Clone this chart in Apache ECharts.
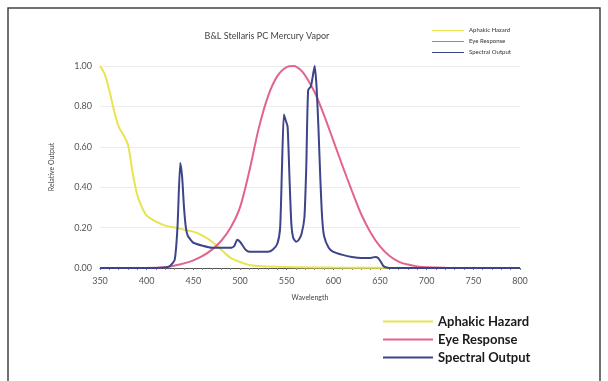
<!DOCTYPE html>
<html>
<head>
<meta charset="utf-8">
<script src="https://cdn.jsdelivr.net/npm/echarts@6/dist/echarts.min.js"></script>
<style>
  html, body { margin: 0; padding: 0; background: #fff; }
  #chart { width: 608px; height: 381px; }
</style>
</head>
<body>
<div id="chart"></div>
<script>
// wavelength (nm) / relative output
const hazardNm = [350, 355, 360, 365, 370, 375, 380, 385, 390, 395, 400, 410, 420, 430, 440, 450, 460, 470, 480, 490, 500, 510, 520, 540, 560, 600, 650, 700, 750, 800]
const hazardVal = [1.00, 0.96, 0.88, 0.78, 0.70, 0.66, 0.61, 0.47, 0.36, 0.30, 0.26, 0.23, 0.21, 0.20, 0.19, 0.18, 0.16, 0.13, 0.09, 0.05, 0.03, 0.015, 0.01, 0.006, 0.004, 0.002, 0.001, 0, 0, 0]

const eyeNm = [350, 400, 420, 430, 440, 450, 460, 470, 480, 490, 500, 510, 520, 530, 540, 550, 558, 565, 570, 580, 590, 600, 610, 620, 630, 640, 650, 660, 670, 680, 690, 700, 720, 750, 800]
const eyeVal = [0, 0, 0.004, 0.012, 0.023, 0.038, 0.06, 0.091, 0.135, 0.2, 0.3, 0.48, 0.69, 0.85, 0.95, 0.995, 1.0, 0.98, 0.952, 0.87, 0.757, 0.631, 0.503, 0.381, 0.265, 0.175, 0.107, 0.061, 0.032, 0.017, 0.008, 0.004, 0.001, 0, 0]

const specNm = [350, 400, 420, 425, 430, 433, 436, 438, 440, 442, 444, 447, 450, 460, 470, 480, 490, 494, 497, 500, 503, 506, 510, 520, 530, 535, 540, 543, 545, 547, 549, 551, 553, 555, 557, 560, 563, 566, 569, 571, 573, 576, 578, 580, 582, 584, 586, 588, 590, 595, 600, 610, 620, 630, 640, 645, 648, 651, 654, 660, 700, 800]
const specVal = [0, 0, 0.003, 0.01, 0.04, 0.2, 0.52, 0.45, 0.3, 0.2, 0.16, 0.14, 0.125, 0.11, 0.10, 0.10, 0.10, 0.11, 0.14, 0.13, 0.11, 0.09, 0.08, 0.08, 0.08, 0.09, 0.12, 0.2, 0.5, 0.76, 0.73, 0.70, 0.45, 0.22, 0.15, 0.13, 0.14, 0.17, 0.25, 0.5, 0.88, 0.90, 0.95, 1.0, 0.9, 0.7, 0.45, 0.25, 0.16, 0.10, 0.08, 0.065, 0.055, 0.05, 0.05, 0.055, 0.05, 0.03, 0.008, 0, 0, 0]

const seriesNames = ['Aphakic Hazard', 'Eye Response', 'Spectral Output']
const yTicks = ['0.00', '0.20', '0.40', '0.60', '0.80', '1.00']

const pairs = (xs, ys) => xs.map((x, i) => [x, ys[i]])

const chart = echarts.init(document.getElementById('chart'))
const font = 'Lato, "Open Sans", sans-serif'

chart.setOption({
  animation: false,
  color: ['#e8e44e', '#e2648a', '#3d4489'],
  title: {
    text: 'B&L Stellaris PC Mercury Vapor',
    left: 262, top: 27, textAlign: 'center',
    textStyle: { fontFamily: font, fontSize: 9, fontWeight: 'normal', color: '#444' }
  },
  legend: [
    {
      // little legend top right
      left: 427, top: 22, orient: 'vertical',
      icon: 'rect', itemWidth: 32, itemHeight: 1, itemGap: 4,
      textStyle: { fontFamily: font, fontSize: 6, lineHeight: 7, color: '#333' },
      data: seriesNames
    },
    {
      // big legend under the plot
      left: 378, top: 309, orient: 'vertical',
      icon: 'rect', itemWidth: 50, itemHeight: 2, itemGap: 3,
      textStyle: { fontFamily: font, fontSize: 13, lineHeight: 15, color: '#1a1a1a', fontWeight: 'bold' },
      data: seriesNames
    }
  ],
  grid: { left: 100, right: 88, top: 66, bottom: 113 },
  xAxis: {
    type: 'value', min: 350, max: 800, interval: 50,
    name: 'Wavelength', nameLocation: 'middle', nameGap: 26,
    nameTextStyle: { fontFamily: font, fontSize: 7, color: '#444' },
    axisLine: { lineStyle: { color: '#555', width: 1 } },
    axisTick: { show: true, length: 2, lineStyle: { color: '#777' } },
    minorTick: { show: true, splitNumber: 5, length: 2, lineStyle: { color: '#888' } },
    axisLabel: { fontFamily: font, fontSize: 9, color: '#555', margin: 9 },
    splitLine: { show: false }
  },
  yAxis: {
    type: 'value', min: 0, max: 1, interval: 0.2,
    name: 'Relative Output', nameLocation: 'middle', nameGap: 45, nameRotate: 90,
    nameTextStyle: { fontFamily: font, fontSize: 7, color: '#444' },
    axisLine: { show: false }, axisTick: { show: false },
    axisLabel: {
      fontFamily: font, fontSize: 9, color: '#555', margin: 8,
      formatter: v => yTicks[Math.round(v / 0.2)]
    },
    splitLine: { lineStyle: { color: '#ececec', width: 1 } }
  },
  graphic: [{
    type: 'rect', shape: { x: 8, y: 8, width: 592, height: 400 },
    style: { fill: 'none', stroke: '#444', lineWidth: 1.5 }, silent: true
  }],
  series: [
    { name: seriesNames[0], type: 'line', data: pairs(hazardNm, hazardVal), showSymbol: false, smooth: 0.3, lineStyle: { width: 2 } },
    { name: seriesNames[1], type: 'line', data: pairs(eyeNm, eyeVal), showSymbol: false, smooth: 0.3, lineStyle: { width: 2 } },
    { name: seriesNames[2], type: 'line', data: pairs(specNm, specVal), showSymbol: false, smooth: 0.2, lineStyle: { width: 2 } }
  ]
})
</script>
</body>
</html>
